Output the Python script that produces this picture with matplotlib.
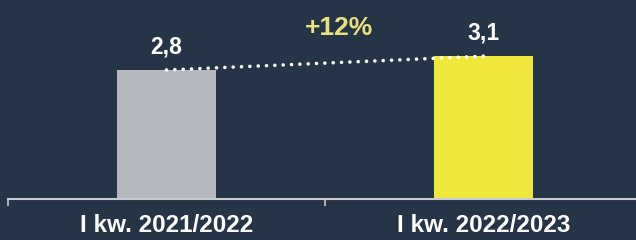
import matplotlib.pyplot as plt

categories = ["I kw. 2021/2022", "I kw. 2022/2023"]
values = [2.8, 3.1]
value_labels = ["2,8", "3,1"]
change_label = "+12%"

bg = "#253547"
bar_colors = ["#b5b8bf", "#efe83b"]

plt.rcParams["font.family"] = ["Liberation Sans", "DejaVu Sans"]

fig = plt.figure(figsize=(6.36, 2.4), dpi=100, facecolor=bg)
ax = fig.add_axes([8 / 636, 41 / 240, 634 / 636, 199 / 240])
ax.set_facecolor(bg)

x = list(range(len(categories)))
ax.bar(x, values, width=0.315, color=bar_colors, zorder=2)

# dotted connector between bar tops
ax.plot(x, values, color="white", lw=2.6, linestyle=(0, (0.01, 2.3)),
        dash_capstyle="round", zorder=3)

for xi, v, lab in zip(x, values, value_labels):
    ax.annotate(lab, (xi, v), xytext=(0, 12), textcoords="offset points",
                ha="center", va="baseline", color="white", fontsize=16.5,
                fontweight="bold")

ax.annotate(change_label, ((x[0] + x[1]) / 2, max(values)), xytext=(10, 15),
            textcoords="offset points", ha="center", va="baseline",
            color="#e9e27c", fontsize=19, fontweight="bold")

ax.set_xlim(-0.5, 1.5)
ax.set_ylim(0, 4.32)

for side in ["top", "right", "left"]:
    ax.spines[side].set_visible(False)
ax.spines["bottom"].set_color("#c9cacc")
ax.spines["bottom"].set_linewidth(1.5)

ax.set_yticks([])
ax.set_xticks(x)
ax.set_xticklabels(categories, color="white", fontsize=17.5, fontweight="bold")
ax.tick_params(axis="x", which="major", length=0, pad=11)
ax.set_xticks([-0.5, 0.5, 1.5], minor=True)
ax.tick_params(axis="x", which="minor", length=5, width=1.2, color="#c9cacc")

fig.savefig("out.png", dpi=100, facecolor=bg)
